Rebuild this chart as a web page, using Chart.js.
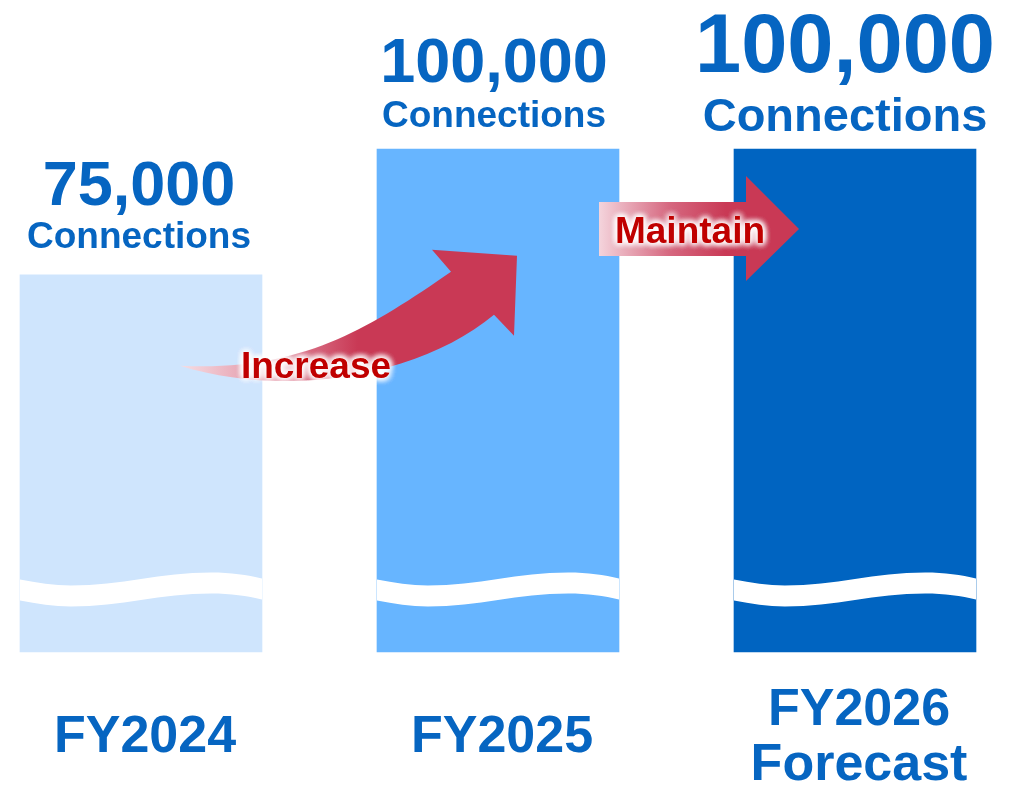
<!DOCTYPE html>
<html>
<head>
<meta charset="utf-8">
<script src="https://cdn.jsdelivr.net/npm/chart.js@4/dist/chart.umd.min.js"></script>
<style>
  html, body { margin: 0; padding: 0; background: #fff; }
  #wrap { width: 1023px; height: 786px; }
</style>
</head>
<body>
<div id="wrap"><canvas id="chart" width="1023" height="786"></canvas></div>
<script>
// data
const categories = [['FY2024'], ['FY2025'], ['FY2026', 'Forecast']];
const connections = [75000, 100000, 100000];
const unitLabel = 'Connections';
const arrowLabels = ['Increase', 'Maintain'];

// styles
const barColors = ['#cfe5fd', '#67b5ff', '#0064c1'];
const textBlue = '#0665c1';
const bigSize = [63, 63, 83];
const unitSize = [37, 37, 47];
const bigGap = [70, 67, 77];
const unitGap = [27, 22, 18];
const labelShift = [-2, -4, -10];
const FONT = '"Liberation Sans", Arial, sans-serif';

function glowText(ctx, text, x, y, size) {
  ctx.save();
  ctx.font = `bold ${size}px ${FONT}`;
  ctx.textAlign = 'center';
  ctx.textBaseline = 'alphabetic';
  ctx.shadowColor = '#ffffff';
  ctx.shadowBlur = 7;
  ctx.fillStyle = '#ffffff';
  for (let i = 0; i < 5; i++) ctx.fillText(text, x, y);
  ctx.shadowBlur = 0;
  ctx.fillStyle = '#c00000';
  ctx.fillText(text, x, y);
  ctx.restore();
}

const decorPlugin = {
  id: 'decorPlugin',
  afterDatasetsDraw(chart) {
    const {ctx, chartArea, scales} = chart;
    const bars = chart.getDatasetMeta(0).data;

    // wave break across each bar
    const yb = scales.y.getPixelForValue(15000);
    bars.forEach((b) => {
      const w = b.width, l = b.x - w / 2;
      const edge = (off) => [
        [l, yb + 3 + off],
        [l + 0.07 * w, yb + 6 + off], [l + 0.14 * w, yb + 9 + off], [l + 0.21 * w, yb + 9 + off],
        [l + 0.42 * w, yb + 9 + off], [l + 0.58 * w, yb - 4 + off], [l + 0.79 * w, yb - 4 + off],
        [l + 0.87 * w, yb - 4 + off], [l + 0.94 * w, yb - 1.5 + off], [l + w, yb + 2 + off]
      ];
      const top = edge(0), bot = edge(21);
      ctx.save();
      ctx.fillStyle = '#ffffff';
      ctx.beginPath();
      ctx.moveTo(...top[0]);
      for (let i = 1; i < top.length; i += 3) ctx.bezierCurveTo(...top[i], ...top[i + 1], ...top[i + 2]);
      ctx.lineTo(...bot[bot.length - 1]);
      for (let i = bot.length - 2; i > 0; i -= 3) ctx.bezierCurveTo(...bot[i], ...bot[i - 1], ...bot[i - 2]);
      ctx.closePath();
      ctx.fill();
      ctx.restore();
    });

    // value labels
    bars.forEach((b, i) => {
      ctx.save();
      ctx.fillStyle = textBlue;
      ctx.textAlign = 'center';
      ctx.textBaseline = 'alphabetic';
      ctx.font = `bold ${bigSize[i]}px ${FONT}`;
      ctx.fillText(connections[i].toLocaleString('en-US'), b.x + labelShift[i], b.y - bigGap[i]);
      ctx.font = `bold ${unitSize[i]}px ${FONT}`;
      ctx.fillText(unitLabel, b.x + labelShift[i], b.y - unitGap[i]);
      ctx.restore();
    });

    // category labels
    bars.forEach((b, i) => {
      const lines = categories[i];
      ctx.save();
      ctx.fillStyle = textBlue;
      ctx.textAlign = 'center';
      ctx.font = `bold 52px ${FONT}`;
      const first = chartArea.bottom + 100 - (lines.length - 1) * 27.5;
      lines.forEach((t, k) => ctx.fillText(t, b.x + 4, first + k * 55));
      ctx.restore();
    });

    // "Increase" curved arrow
    const b1 = bars[0], b2 = bars[1];
    const tx = b1.x + 39, ty = b1.y + 91;
    const hx = b2.x - b2.width / 2;
    ctx.save();
    let g = ctx.createLinearGradient(tx, 0, hx + 40, 0);
    g.addColorStop(0, 'rgba(246,222,228,1)');
    g.addColorStop(0.45, 'rgba(222,130,150,1)');
    g.addColorStop(0.75, 'rgba(201,57,85,1)');
    ctx.fillStyle = g;
    ctx.beginPath();
    ctx.moveTo(tx, ty);
    ctx.bezierCurveTo(tx + 120, ty + 6, hx - 10, ty - 36, hx + 74, ty - 94);
    ctx.lineTo(hx + 55, ty - 116);
    ctx.lineTo(hx + 140, ty - 110);
    ctx.lineTo(hx + 137, ty - 30);
    ctx.lineTo(hx + 117, ty - 51);
    ctx.bezierCurveTo(hx + 45, ty + 9, tx + 110, ty + 34, tx, ty);
    ctx.closePath();
    ctx.fill();
    ctx.restore();
    glowText(ctx, arrowLabels[0], tx + 136, ty + 12, 37);

    // "Maintain" straight arrow
    const b3 = bars[2];
    const ml = b2.x + b2.width / 2 - 20;
    const hb = b3.x - b3.width / 2 + 12;
    const my = b3.y + 80;
    ctx.save();
    g = ctx.createLinearGradient(ml, 0, hb - 20, 0);
    g.addColorStop(0, 'rgba(244,212,220,1)');
    g.addColorStop(0.55, 'rgba(214,104,128,1)');
    g.addColorStop(1, 'rgba(201,57,85,1)');
    ctx.fillStyle = g;
    ctx.beginPath();
    ctx.moveTo(ml, my - 27);
    ctx.lineTo(hb, my - 27);
    ctx.lineTo(hb, my - 53);
    ctx.lineTo(hb + 53, my);
    ctx.lineTo(hb, my + 52);
    ctx.lineTo(hb, my + 27);
    ctx.lineTo(ml, my + 27);
    ctx.closePath();
    ctx.fill();
    ctx.restore();
    glowText(ctx, arrowLabels[1], ml + 91, my + 14, 37);
  }
};

new Chart(document.getElementById('chart'), {
  type: 'bar',
  data: {
    labels: categories,
    datasets: [{
      data: connections,
      backgroundColor: barColors,
      borderWidth: 0,
      barThickness: 242,
      clip: false
    }]
  },
  options: {
    responsive: false,
    animation: false,
    events: [],
    layout: { padding: { left: 141, right: 168, top: 149, bottom: 134 } },
    plugins: { legend: { display: false }, tooltip: { enabled: false } },
    scales: {
      x: { type: 'category', offset: false, display: false },
      y: { min: 0, max: 100000, display: false }
    }
  },
  plugins: [decorPlugin]
});
</script>
</body>
</html>
